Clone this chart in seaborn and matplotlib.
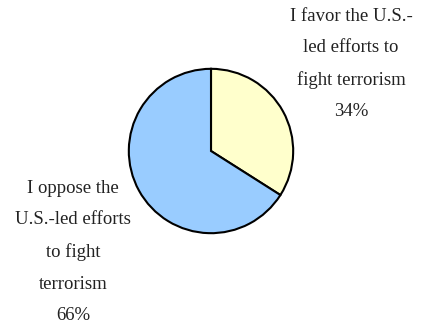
import matplotlib
matplotlib.use("Agg")
import matplotlib.pyplot as plt
import seaborn as sns

# Survey shares
categories = ["I favor the U.S.-\nled efforts to\nfight terrorism",
              "I oppose the\nU.S.-led efforts\nto fight\nterrorism"]
shares = [34, 66]
colors = ["#FFFFCC", "#99CCFF"]

sns.set_theme(style="white")
plt.rcParams["font.family"] = ["Liberation Serif", "DejaVu Serif"]

W, H, DPI = 427, 323, 100
fig = plt.figure(figsize=(W / DPI, H / DPI), dpi=DPI)
fig.patch.set_facecolor("white")

cx, cy, r = 211, 151, 83
ax = fig.add_axes([(cx - r) / W, (H - cy - r) / H, 2 * r / W, 2 * r / H])
ax.pie(shares, colors=colors, startangle=90, counterclock=False,
       wedgeprops=dict(edgecolor="black", linewidth=1.5))
ax.set_xlim(-1.01, 1.01)
ax.set_ylim(-1.01, 1.01)
ax.set_aspect("equal")
ax.axis("off")

# Category labels with percentages, placed beside the pie
label_pos = [(351, 64), (73, 252)]
for cat, val, (px, py) in zip(categories, shares, label_pos):
    fig.text(px / W, 1 - py / H, f"{cat}\n{val}%", ha="center", va="center",
             multialignment="center", fontsize=13.5, linespacing=2.1,
             color="#222222")

fig.savefig("out.png", dpi=DPI, facecolor="white")
